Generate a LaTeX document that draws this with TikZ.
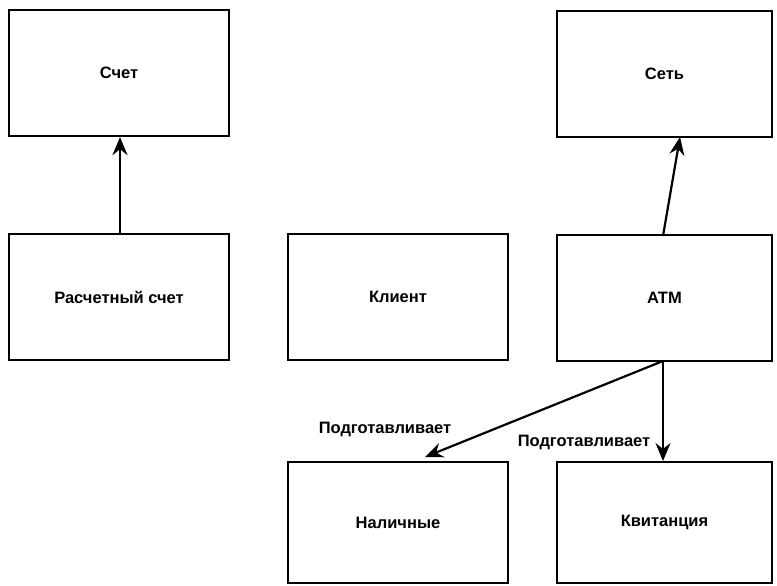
\documentclass[tikz,border=0pt]{standalone}
\usepackage{fontspec}
\setmainfont{Liberation Sans}
\usetikzlibrary{arrows.meta}
\begin{document}
\begin{tikzpicture}[x=1pt,y=-1pt,
  box/.style={draw,line width=2.2pt,minimum width=220pt,minimum height=126pt,inner sep=0pt,font=\bfseries\fontsize{16.5}{19}\selectfont},
  rbox/.style={box,minimum width=215pt},
  conn/.style={line width=2.2pt,-{Stealth[length=18pt,width=15pt,inset=6pt]}},
  lbl/.style={font=\bfseries\fontsize{16.5}{19}\selectfont,inner sep=0pt}]
\useasboundingbox (0,0) rectangle (777,586);
\node[box] (schet) at (119,73) {Счет};
\node[rbox] (set) at (664.5,74) {Сеть};
\node[box] (rasch) at (119,297) {Расчетный счет};
\node[box] (klient) at (398,297) {Клиент};
\node[rbox] (atm) at (664.5,298) {ATM};
\node[box,minimum height=121pt] (nal) at (398,522.5) {Наличные};
\node[rbox,minimum height=121pt] (kvit) at (664.5,522.5) {Квитанция};
\coordinate (src) at (663,361);
\draw[conn] (rasch.north -| 120,0) -- (schet.south -| 120,0);
\draw[conn] (663,236) -- (680,137);
\draw[conn] (src) -- (663,461);
\draw[conn] (src) -- (425,457);
\node[lbl] (l1) at (385,429) {Подготавливает};
\node[lbl] (l2) at (584,442) {Подготавливает};
\end{tikzpicture}
\end{document}
